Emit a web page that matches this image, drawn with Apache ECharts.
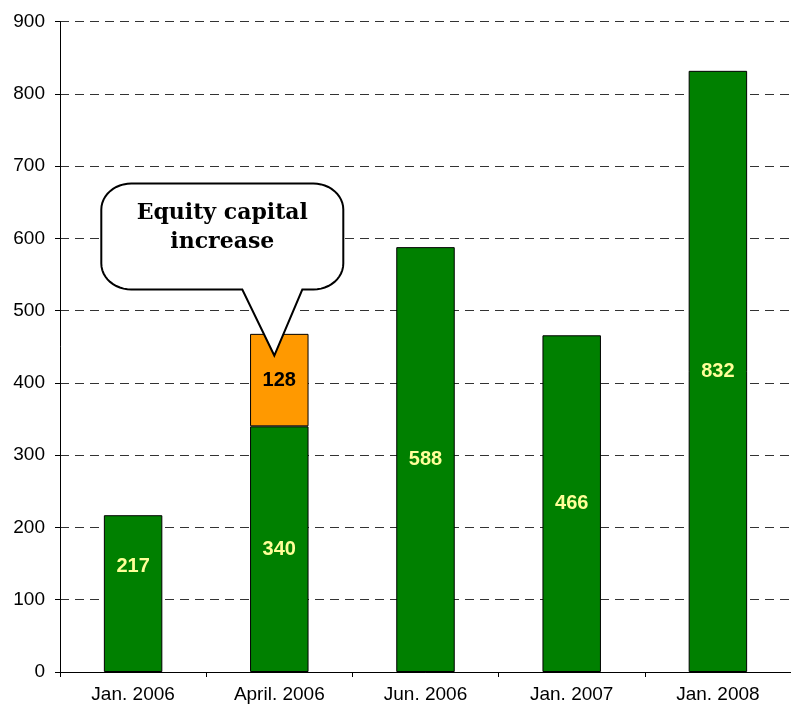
<!DOCTYPE html>
<html>
<head>
<meta charset="utf-8">
<script src="https://cdn.jsdelivr.net/npm/echarts@6/dist/echarts.min.js"></script>
<style>
  html, body { margin: 0; padding: 0; background: #fff; }
  #chart { width: 791px; height: 715px; }
</style>
</head>
<body>
<div id="chart"></div>
<script>
// Periods shown on the category axis
const periods = ['Jan. 2006', 'April. 2006', 'Jun. 2006', 'Jan. 2007', 'Jan. 2008'];
// Base capital per period
const baseValues = [217, 340, 588, 466, 832];
// Equity capital increase (only in April 2006)
const increaseValues = ['-', 128, '-', '-', '-'];
// Value axis ticks
const yMin = 0, yMax = 900, yStep = 100;

const calloutLines = ['Equity capital', 'increase'];
const calloutTarget = ['April. 2006', 438];

const chart = echarts.init(document.getElementById('chart'), null, { renderer: 'canvas' });

const axisFont = { fontFamily: 'Liberation Sans, Arial, sans-serif', fontSize: 19, color: '#000' };

chart.setOption({
  backgroundColor: '#fff',
  animation: false,
  grid: { left: 60, width: 739, top: 21.7, bottom: 43, containLabel: false },
  xAxis: {
    type: 'category',
    data: periods,
    boundaryGap: true,
    axisLine: { lineStyle: { color: '#000', width: 1 } },
    axisTick: { show: true, length: 5, lineStyle: { color: '#000' } },
    axisLabel: Object.assign({ margin: 13 }, axisFont),
    splitLine: { show: false }
  },
  yAxis: {
    type: 'value',
    min: yMin, max: yMax, interval: yStep,
    axisLine: { show: true, lineStyle: { color: '#000', width: 1 } },
    axisTick: { show: true, length: 5, lineStyle: { color: '#000' } },
    axisLabel: Object.assign({ margin: 15 }, axisFont),
    splitLine: { show: true, lineStyle: { color: '#333', type: [9, 6], width: 1 } }
  },
  series: [
    {
      name: 'Capital',
      type: 'bar',
      stack: 'cap',
      barWidth: '40%',
      data: baseValues.map((v, i) => i === 0
        ? { value: v, label: { offset: [0, -27] } }
        : v),
      itemStyle: { color: '#008000', borderColor: '#000', borderWidth: 1 },
      label: {
        show: true, position: 'inside',
        color: '#FFFF99', fontWeight: 'bold', fontSize: 20,
        fontFamily: 'Liberation Sans, Arial, sans-serif'
      }
    },
    {
      name: 'Equity capital increase',
      type: 'bar',
      stack: 'cap',
      barWidth: '40%',
      data: increaseValues,
      itemStyle: { color: '#FF9900', borderColor: '#000', borderWidth: 1 },
      label: {
        show: true, position: 'inside',
        color: '#000', fontWeight: 'bold', fontSize: 20,
        fontFamily: 'Liberation Sans, Arial, sans-serif'
      }
    }
  ]
});

// Speech-bubble callout pointing at the increase segment
const anchor = chart.convertToPixel({ xAxisIndex: 0, yAxisIndex: 0 }, calloutTarget);
const cx = anchor[0], ty = anchor[1];
const tx = cx - 5;
const x0 = cx - 178, x1 = cx + 64, y0 = ty - 172, y1 = ty - 66;
const rx = 30, ry = 26;
const tl = cx - 37, tr = cx + 23;

// quarter-ellipse corner from angle a0 to a1 around (ox, oy)
function corner(ox, oy, a0, a1) {
  const pts = [];
  const n = 12;
  for (let k = 0; k <= n; k++) {
    const a = a0 + (a1 - a0) * k / n;
    pts.push([ox + rx * Math.cos(a), oy + ry * Math.sin(a)]);
  }
  return pts;
}
const P = Math.PI;
const bubble = [].concat(
  corner(x1 - rx, y0 + ry, -P / 2, 0),
  corner(x1 - rx, y1 - ry, 0, P / 2),
  [[tr, y1], [tx, ty], [tl, y1]],
  corner(x0 + rx, y1 - ry, P / 2, P),
  corner(x0 + rx, y0 + ry, P, 1.5 * P)
);

chart.setOption({
  graphic: [
    {
      type: 'polygon', z: 100,
      shape: { points: bubble },
      style: { fill: '#fff', stroke: '#000', lineWidth: 2 }
    },
    {
      type: 'text', z: 101,
      x: (x0 + x1) / 2, y: y0 + 15,
      style: {
        text: calloutLines.join('\n'),
        align: 'center', verticalAlign: 'top',
        font: 'bold 22px "DejaVu Serif", "Liberation Serif", serif',
        lineHeight: 29, fill: '#000'
      }
    }
  ]
});
</script>
</body>
</html>
